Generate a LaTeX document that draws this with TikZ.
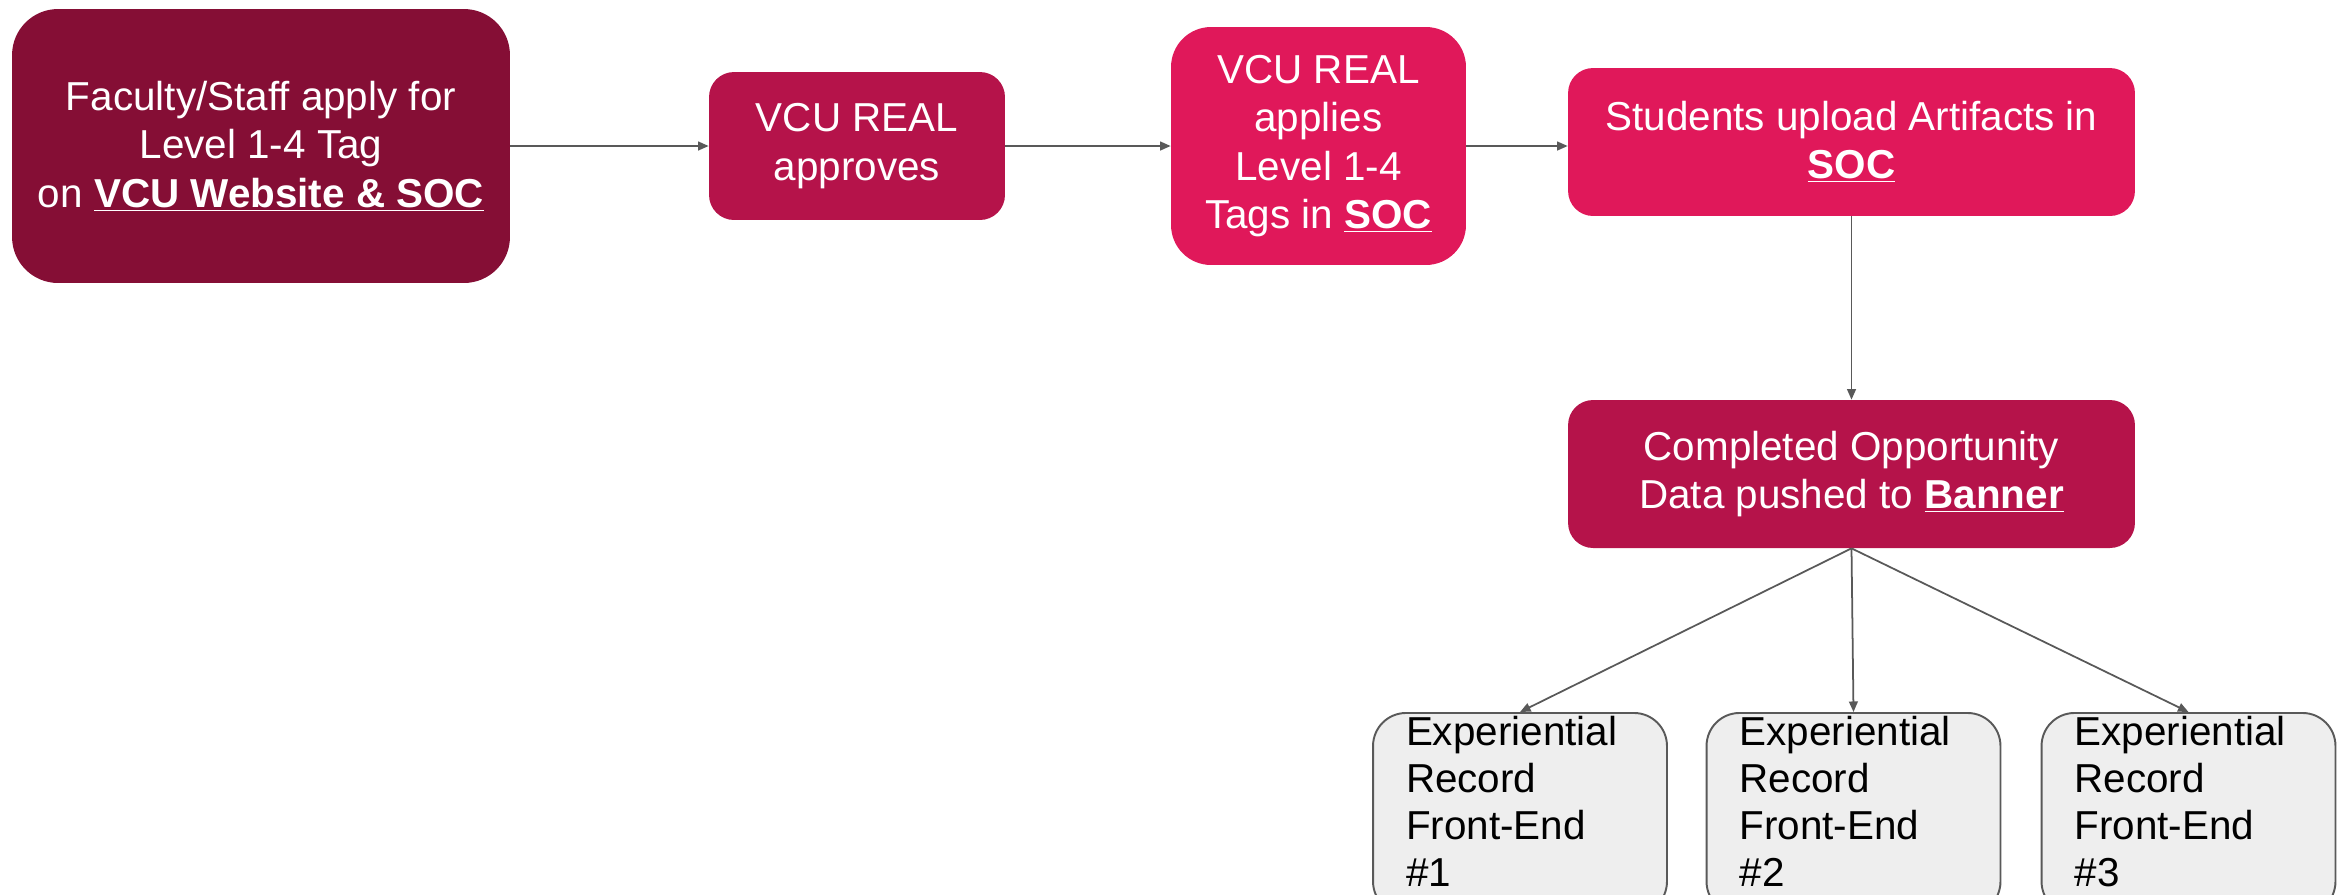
\documentclass[tikz,border=0pt]{standalone}
\usepackage{fontspec}
\setmainfont{Liberation Sans}
\usetikzlibrary{positioning,arrows.meta}

\definecolor{realdark}{HTML}{850E35}
\definecolor{realmid}{HTML}{B5134A}
\definecolor{reallight}{HTML}{E0185A}
\definecolor{recordfill}{HTML}{EEEEEE}
\definecolor{linegray}{HTML}{595959}

\begin{document}
\begin{tikzpicture}[x=0.02cm, y=-0.02cm, font=\fontsize{23}{27.5}\selectfont,
    stepbox/.style={rounded corners=#1, text=white, align=center, inner sep=0pt},
    recordbox/.style={rounded corners=0.66cm, draw=linegray, line width=1.1pt, fill=recordfill,
        font=\fontsize{23}{26.8}\selectfont, text width=4.56cm, inner xsep=0.66cm, inner ysep=0.06cm,
        align=left, anchor=north},
    flow/.style={-{Triangle[length=6pt,width=5pt]}, linegray, line width=1pt}]
        \clip (0,0) rectangle (2346,894);

        % main steps
        \node[stepbox=0.92cm, fill=realdark, minimum width=9.96cm, minimum height=5.48cm] (apply) at (261,146)
            {Faculty/Staff apply for\\Level 1-4 Tag\\on \underline{\textbf{VCU Website \& SOC}}};
        \node[stepbox=0.5cm, fill=realmid, minimum width=5.92cm, minimum height=2.96cm] (approve) at (857,146)
            {VCU REAL\\approves};
        \node[stepbox=0.8cm, fill=reallight, minimum width=5.9cm, minimum height=4.76cm] (tagging) at (1318.5,146)
            {VCU REAL\\applies\\Level 1-4\\Tags in \underline{\textbf{SOC}}};
        \node[stepbox=0.5cm, fill=reallight, minimum width=11.34cm, minimum height=2.96cm] (upload) at (1851.5,142)
            {Students upload Artifacts in\\\underline{\textbf{SOC}}};
        \node[stepbox=0.5cm, fill=realmid, minimum width=11.34cm, minimum height=2.96cm] (pushed) at (1851.5,474)
            {Completed Opportunity\\Data pushed to \underline{\textbf{Banner}}};

        % front-ends (run past the bottom edge)
        \foreach \i/\x in {1/1520, 2/1853.5, 3/2188.5}
            \node[recordbox] (fe\i) at (\x,712) {Experiential\\Record\\Front-End\\\#\i\rule[-0.5cm]{0pt}{0.5cm}};

        \draw[flow] (apply) -- (approve);
        \draw[flow] (approve) -- (tagging);
        \draw[flow] (tagging.east) -- (tagging.east -| upload.west);
        \draw[flow] (upload) -- (pushed);
        \foreach \i in {1,2,3}
            \draw[flow] (pushed.south) -- (fe\i.north);
    \end{tikzpicture}
\end{document}
